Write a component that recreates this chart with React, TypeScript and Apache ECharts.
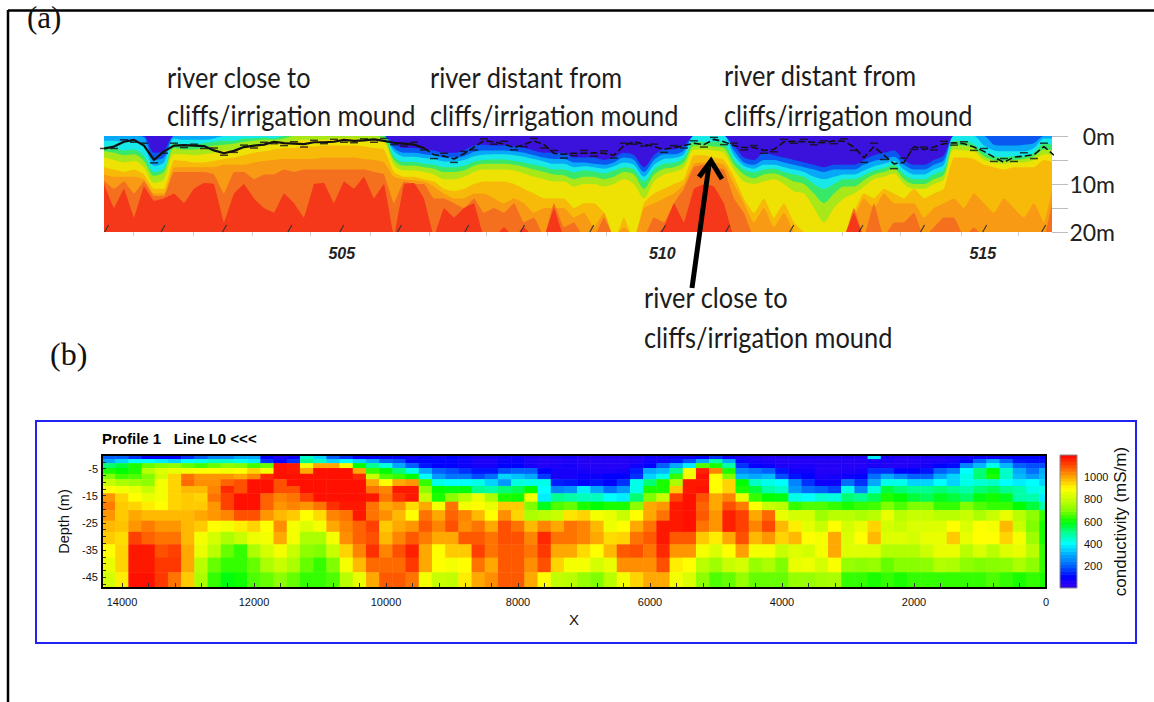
import React, { useEffect, useRef } from "react";
import * as echarts from "echarts";

// ---------- panel (a): depth (m) of each conductivity contour along the survey stations ----------
const isoBlue = [0,0,0,0,0,3.5,3,0,0,0, 0,0,0,0,0,0,0,0,0,0, 0,0,0,0,0,0,0,0,0,1.5, 2.5,2.5,2.8,3,3.5,3.5,3,2,1.8,2, 2,2.2,2.5,3,3.5,3.5,3.5,4.5,4.5,4.5, 5,4.5,3.5,4,6.5,4,2.8,2.8,2,0, 0,0,0,2,4.5,5,3.5,4,4.5,5, 5.5,6,6.5,6,6,6,5,4,3.5,3, 5,6,6,5,4,0,0,0,0,0, 0,0,0,0,0,0];
const isoSky = [0,0,0,0,0.3,5,4.5,0,0,0, 0,0,0,0,0,0,0,0,0,0, 0,0,0,0,0,0,0,0,0,2.5, 3.5,3.5,3.8,4,4.5,4.5,4.2,3.3,3,3, 3,3.2,3.5,4,4.5,4.8,4.8,5.5,5.5,5.8, 6,5.5,4.5,5,7.5,5,3.8,3.8,3,0, 0,0,0,3,5.5,6,5,5,5.5,6, 6.5,7,7.5,7,7,7,6,5.2,4.8,4.3, 6,7,7,6,5,0,0,0,0,1.8, 2,2,1.8,1.5,0,0];
const isoCyan = [1,1,1.2,1.2,2,6.2,5.5,0.5,0.8,0.8, 0.8,0.5,0,0,0,0,0,0,0,0, 0,0,0,0,0,0,0,0,0,3.2, 4.3,4.3,4.6,4.8,5.3,5.3,5,4.2,3.9,3.8, 3.8,4,4.3,4.8,5.3,5.8,5.8,6.5,6.3,6.5, 6.8,6.3,5.5,6,8.5,6,4.8,4.6,3.8,0, 0,0,0,4,6.2,6.8,6,6,6.5,7, 7.5,8.5,9,8.5,8,8,7.2,6.3,5.8,5.2, 7,8,8,7,6,0,0,0,2,3, 3.2,3.2,3.2,2.5,0.5,0.5];
const isoGreen = [2.2,2.5,3,2.8,4.2,7.5,6.8,1.5,1.8,1.8, 1.5,1.2,1,1,0.5,0.5,0.3,0.5,0,0, 0,0,0,0,0,0,0,0,0,4.3, 5.4,5.4,5.8,6,6.5,6.5,6.2,5.3,5,4.9, 4.9,5.2,5.5,6,6.4,7,7,7.6,7.2,7.4, 7.8,7.2,6.5,7,9.5,7,5.8,5.6,4.6,1.2, 1.2,1.2,1.5,5,7,7.6,7,6.8,7.5,8, 8.5,10,11,10,9,9,8.2,7.2,6.7,6, 8,9,9,8,7,1,1,1.8,3.5,4.2, 4.4,4.2,4.2,3.5,1.5,2];
const isoLime = [3.2,3.5,4,3.8,5.2,8.3,7.5,2.5,2.8,2.8, 2.5,2,1.8,1.6,1.2,1,0.8,0.8,0.5,0, 0,0,0,0,0,0,0,0,0.5,5, 6.2,6.2,6.5,6.8,7.5,7.5,7.2,6.2,5.8,5.8, 5.8,6,6.4,7,7.5,8,8.2,9,8.5,8.5, 9,8.5,7.5,8,11,8,6.8,6.5,5.5,2, 2,2.2,2.5,6,8,8.8,8,7.8,8.5,9.5, 10,12,14,12,10.5,10.5,9.2,8,7.5,6.8, 9,10,10,9,8,1.8,2,2.5,4.2,5, 5.2,5,4.8,4.2,2.8,3];
const isoYellow = [4.5,5,5.5,5.2,6.5,9.8,9,3.8,3.8,4, 3.8,3.5,3,3,2.5,2.2,2,1.5,1.2,1, 0.8,0.8,0.8,0.5,0.5,0.5,0.8,1,1.2,6, 7.2,7.2,7.5,8,9,9,8.5,7.5,7,7, 7,7.2,7.8,8.5,9,9.5,9.5,10.5,10,10, 10.5,10,9,10,13,9.5,8,7.5,6.5,2.8, 2.8,3,3.5,7,9.5,10,9.5,9,10,11.5, 12,15,18,15,13,12,10.5,9,8.5,7.8, 10,11,11,10,9,2.8,3,3.2,5,5.5, 5.8,5.5,5.5,5,3.8,4];
const isoGold = [6.5,7,7.5,7,8,11,11,5,5.2,5.5, 5.5,5.2,4.8,4.5,4,3.5,3.2,2.8,2.5,2.5, 2.2,2.2,2,2,2,2,2.2,2.5,2.8,7.5, 8.5,8.5,9,9.5,11,11.5,11,10,9.5,9.5, 9.5,10,11,12,13,13,13,15,14,14, 16,22,17,22,14,12,11,10,9,4, 4,4.5,5,8.5,13,16,13,17,14,18, 20,22,22,20,22,16,12,13,11,12, 13,11,13,12,11,4.5,4.5,4.8,6,6.5, 7,6.5,6.5,6.5,5,5.5];
const isoAmber = [8,8.5,8.5,8.5,9,12,12,6.5,6.5,6.5, 6.5,6.5,6,6,6,5.5,5.2,5,4.8,4.8, 4.8,4.8,4.5,4.5,4.5,4.5,4.8,5,5.5,8.5, 9,9.2,9.5,10.5,12,13,13,12,12,13, 14,13,14,16,15,15,15,17,16,19, 16,21,19,21,15,14,13,12,10,5.8, 5.5,5.5,6,10,14,18,15,19,16,20, 22,22,22,22,22,17,13,15,12,14, 14,14,17,15,14,13,15,12,14,16, 13,15,17,14,18,9];
const isoDeep = [9.3,11,9.5,12,9.5,12.5,12.5,7.5,7.5,7.5, 7.5,8,12,7.5,7.5,9,8,8,7,7.5, 7,7,7,7,7,7,7,7.5,8,14, 9.5,10,10,13,13,14,15,13,16,15, 16,14,18,17,21,14,19,18,21,21, 17,21,21,21,21,17,18,14,11,6.5, 6,6.5,7,13,16,21,21,21,21,21, 21,21,21,21,21,15,21,14,21,18, 18,16,21,19,17,17,21,19,21,21, 21,20,21,21,21,12];
const isoRed = [10,15,11,17,10.5,13.5,13,12,14,11, 9.8,10,18,12,10,13,15,16,12,14, 17,10,9.8,14,9.5,11,8.5,13,10,21, 10,9.8,13,21,15,17,15,14,21,21, 19,21,19,21,21,15,21,21,21,21, 21,21,21,21,21,21,19,14,18,11, 10,10.5,14,21,21,21,21,21,21,21, 21,21,21,21,21,16,21,21,21,21, 21,21,21,21,21,21,21,21,21,21, 21,21,21,21,21,21];
const riverDepth = [2.6,2.2,1.2,0.8,2,5,3.2,2,1.9,2, 2.1,3,3.6,3.1,2.3,2,1.8,1.2,1.5,1.6, 1.7,1.3,1.3,1.2,0.8,1,0.9,0.7,1,1.4, 1.6,1.8,2.5,3.9,4.2,4.8,3.7,2.3,1,1.2, 1.7,2.4,1.8,1,1.8,3.6,3.8,3.6,3.6,3.5, 3.6,4,2,1.2,1.7,2.2,2.8,2.4,2,1.5, 1.8,0.7,1.2,2,2.4,2.4,3,2.8,1.2,1.1, 1.2,1.3,1.4,1,1.1,2.3,4.5,2.2,4,5.8, 5.5,2.2,2.8,2.3,1.6,1.4,1.6,2.3,3.2,4.4, 5.5,4.4,4.2,3.9,2.2,4];
const soundingOffset = [0,0.4,-0.4,0.5,-0.5,0.6,0.4,-0.5,0.5,-0.3, 0.5,-0.5,0.4,0.3,-0.4,0.5,-0.5,0.4,0.5,-0.4, 0.6,-0.4,0.3,-0.5,0.5,0.4,-0.3,0.6,-0.5,0.4, 0.5,-0.5,0.4,0.8,-0.6,0.7,-0.5,0.6,-0.4,0.5, -0.6,0.5,0.4,-0.5,0.7,-0.6,0.8,0.5,-0.6,0.7, -0.5,0.6,-0.5,0.5,0.4,-0.5,0.6,-0.4,0.5,-0.5, 0.5,-0.4,0.6,-0.5,0.5,-0.4,0.6,0.5,-0.5,0.4, -0.5,0.5,-0.4,0.6,-0.5,0.7,1,-0.7,0.9,1, -0.9,0.6,-0.5,0.6,-0.5,0.5,-0.4,0.7,-0.6,0.9, -0.8,0.9,-0.7,0.8,-0.7,1];
const kmTicksSlanted = [501.33,502.21,503.17,504.19,505,505.9,506.95,507.82,508.9,510.02,511.02,512.02,513.1,514.06,515.03,515.95];
const kmTicksFaint = [501.74,502.68,503.6,504.5,505.44,506.37,507.26,508.2,509.12,512.8,513.72,514.66,515.56];
const kmLabels = [505,510,515];
const kmStart = 501.29;
const kmEnd = 516.08;
const kmStep = 0.156;

// ---------- panel (b): conductivity (mS/m) per depth layer ----------
const layerEdges = [0,1.6,3.1,4.9,7,9,11.5,14.2,17.3,20.4,24.3,28.4,33,37.9,43.3,49];
const layer00 = [200,200,150,100,100,100,150,200,250,250,300,300,100,50,80,450,350,200, 150,100,100,100,100,80,100,80,100,80,60,60,80,80,50,40,50,60, 40,40,40,40,50,70,70,80,80,100,150,80,60,50,40,40,50,50, 50,50,50,40,380,60,40,50,50,50,60,70,80,80,90,100,100,100];
const layer01 = [300,350,400,400,380,350,400,420,450,450,420,380,150,100,150,500,450,350, 400,350,300,200,180,100,100,100,90,80,50,50,80,80,50,40,40,50, 40,40,40,40,50,70,70,120,180,300,480,300,80,60,50,40,40,40, 40,40,40,40,50,50,40,40,50,50,60,100,200,300,200,120,110,110];
const layer02 = [520,560,620,680,700,720,680,650,680,720,700,650,680,1180,1170,880,1000,1000, 880,600,500,430,300,200,120,100,100,80,60,60,100,100,60,40,50,60, 40,40,40,40,70,100,200,300,380,660,620,480,150,90,80,50,50,50, 40,40,40,40,50,40,40,50,60,100,110,250,320,420,320,200,180,180];
const layer03 = [620,600,620,780,840,860,880,900,900,880,900,950,880,1180,1170,1000,1180,1180, 1180,1000,640,600,520,420,300,200,180,150,120,120,180,200,200,100,60,60, 60,50,50,60,130,300,320,500,880,1160,1040,620,250,230,200,120,70,70, 40,40,50,60,150,150,100,100,120,200,240,400,520,600,450,300,220,300];
const layer04 = [700,650,660,700,820,950,1060,1020,1020,1020,1000,1040,1150,1180,1180,1180,1180,1180, 1180,1150,800,660,640,600,400,280,230,230,180,220,350,330,300,160,60,60, 80,80,100,100,150,350,420,640,880,1180,900,700,320,300,320,180,120,100, 50,60,80,100,220,300,250,200,200,300,350,420,520,620,450,320,280,320];
const layer05 = [800,760,740,720,880,950,1070,1030,1030,1080,1100,1180,1180,1100,1180,1180,1180,1180, 1180,1180,1000,900,1000,1020,640,420,400,400,420,350,280,430,420,420,130,120, 100,120,100,150,420,520,620,760,1170,1170,900,950,600,450,420,400,250,150, 80,80,220,150,300,420,420,350,350,400,350,420,440,450,400,380,400,350];
const layer06 = [900,880,860,800,880,950,980,980,1040,1150,1100,1180,1180,1100,1100,1180,1180,1180, 1180,1180,1060,1040,1170,1170,720,600,590,590,500,480,520,540,600,400,250,270, 380,300,220,280,420,620,620,960,1170,1180,900,950,620,560,480,450,280,220, 200,170,420,250,430,560,520,500,500,520,500,480,520,540,500,480,420,420];
const layer07 = [1020,950,900,860,880,950,960,950,1060,1120,1180,1180,1080,1040,1060,1120,1180,1180, 1180,1180,1170,1060,1140,1170,800,620,720,780,860,760,620,610,880,380,500,480, 460,460,400,380,520,700,800,1120,1180,1100,1000,1040,860,640,600,590,420,400, 440,430,520,500,540,620,600,560,540,580,560,530,590,610,580,480,470,380];
const layer08 = [1050,960,950,920,900,950,960,960,1020,1120,1180,1180,1080,1020,1040,1020,1060,1140, 1170,1170,1060,1000,1020,940,1000,880,1060,880,900,860,960,960,700,580,660,680, 620,600,620,620,720,1000,1020,1170,1180,1080,1000,1100,1050,900,800,780,640,660, 660,640,620,640,650,700,660,700,700,640,640,700,660,640,640,600,560,480];
const layer09 = [1020,960,1000,980,980,980,980,1000,1020,1040,1100,1100,1020,980,960,900,940,1040, 1060,1170,1060,1030,980,900,1060,1000,1080,1040,980,900,1030,950,760,780,800,930, 950,880,860,800,900,1000,1060,1170,1180,1090,1020,1160,1120,1000,1070,860,820,820, 740,780,780,760,780,860,780,800,800,780,780,800,760,800,860,780,720,640];
const layer10 = [980,970,1020,1050,1020,1020,980,960,900,880,920,950,900,1030,880,840,880,1000, 1040,1080,1120,960,1000,1020,1090,1040,1100,1030,1060,1000,1100,1060,980,1040,1000,1060, 1040,980,870,900,1000,1060,1170,1170,1180,1060,1020,1160,1120,1040,1110,980,920,850, 800,900,820,860,950,820,800,830,830,840,900,830,900,880,980,800,700,620];
const layer11 = [960,940,1120,1080,1060,1060,980,880,820,760,800,870,880,1000,880,760,760,880, 1030,1080,1100,980,1040,1090,1050,1000,1000,1090,1090,1060,1100,1100,1040,1150,1060,1060, 1040,1000,940,950,1060,1090,1170,1090,1090,960,920,1000,1100,980,1020,950,980,900, 880,1000,830,900,980,840,840,820,860,860,960,860,900,900,950,880,740,620];
const layer12 = [900,950,1170,1170,1100,1120,1000,860,780,680,640,760,820,880,800,720,700,800, 950,1040,1140,1040,1100,1160,1000,900,960,960,1120,1060,1090,1090,1060,1130,1000,1000, 940,900,980,1090,1100,1060,1150,1020,1020,880,830,900,1010,880,880,800,840,820, 880,1000,840,840,840,770,770,770,810,860,860,780,830,780,840,860,780,640];
const layer13 = [860,950,1170,1170,1130,1130,1000,780,680,640,640,680,760,800,760,680,640,700, 880,980,1070,1070,1070,1130,1000,900,880,900,1060,1000,1090,1090,1030,1100,950,880, 880,820,860,1030,1030,1030,1100,920,900,780,740,800,820,730,760,700,860,870, 820,890,730,720,730,680,710,710,720,770,760,720,700,710,720,760,720,640];
const layer14 = [820,920,1180,1180,1130,1060,960,760,640,590,610,660,680,720,680,640,640,660, 780,860,1000,1090,1090,1060,880,800,790,920,1000,1030,1090,1090,1000,900,790,780, 730,700,780,880,950,1000,1000,880,830,720,660,680,730,680,680,680,730,730, 750,760,640,640,620,640,620,640,640,640,640,640,640,660,640,620,640,620];
const layers = [layer00,layer01,layer02,layer03,layer04,layer05,layer06,layer07,layer08,layer09,layer10,layer11,layer12,layer13,layer14];
const firstColumnX = 14200;
const columnSpacing = 200;
const depthLabels = [-5,-15,-25,-35,-45];
const depthTicks = [-2.5,-5,-7.5,-10,-12.5,-15,-17.5,-20,-22.5,-25,-27.5,-30,-32.5,-35,-37.5,-40,-42.5,-45,-47.5];
const xLabels = [0,2000,4000,6000,8000,10000,12000,14000];
const xTicks = [400,800,1200,1600,2000,2400,2800,3200,3600,4000,4400,4800,5200,5600,6000,6400,6800,7200,7600,8000,8400,8800,9200,9600,10000,10400,10800,11200,11600,12000,12400,12800,13200,13600,14000];
const colorBarLevels = [15,45,75,105,135,165,195,225,255,285,315,345,375,405,435,465,495,525,555,585,615,645,675,705,735,765,795,825,855,885,915,945,975,1005,1035,1065,1095,1125,1155,1185];
const conductivityColors = ["#3a00f0","#0000ff","#0060ff","#00a8ff","#00ffff","#00ff90","#00ff00","#80ff00","#c8ff00","#ffff00","#ffa800","#ff5000","#ff0000"];

const isoLayers: [number[], string, number][] = [
  [isoBlue, "#0a58f0", 0.3], [isoSky, "#08a8f8", 0.3], [isoCyan, "#18e8e8", 0.3], [isoGreen, "#38e868", 0.3],
  [isoLime, "#a8e818", 0.3], [isoYellow, "#eee204", 0.3], [isoGold, "#f8ba08", 0.15], [isoAmber, "#f89a14", 0.15],
  [isoDeep, "#f4701f", 0.1], [isoRed, "#f5381a", 0.05],
];

const ANN = "Lato";
const annotation = (text: string, x: number, y: number) => ({
  type: "text", x, y, z: 20, scaleY: 1.12, style: { text, x: 0, y: 0, font: `25.4px ${ANN}`, fill: "#1c1c1c", textVerticalAlign: "middle" },
});

export default function App() {
  const ref = useRef<HTMLDivElement>(null);
  useEffect(() => {
    document.body.style.margin = "0";
    const chart = echarts.init(ref.current!, null, { renderer: "svg" });
    const stationSeries = (arr: (number | null)[]) => arr.map((d, i) => [kmStart + i * kmStep, d]);

    const cells: number[][] = [];
    layers.forEach((row, r) => row.forEach((v, c) => {
      const cx = firstColumnX - c * columnSpacing;
      cells.push([cx + columnSpacing / 2, cx - columnSpacing / 2, -layerEdges[r], -layerEdges[r + 1], v]);
    }));
    const barCells = colorBarLevels.map((v) => [0, 1, v - 15, v + 15, v]);

    const renderRect = (_: any, api: any) => {
      const a = api.coord([api.value(0), api.value(2)]);
      const b = api.coord([api.value(1), api.value(3)]);
      return {
        type: "rect",
        shape: { x: Math.min(a[0], b[0]) - 0.25, y: Math.min(a[1], b[1]) - 0.25, width: Math.abs(b[0] - a[0]) + 0.5, height: Math.abs(b[1] - a[1]) + 0.5 },
        style: { fill: api.visual("color"), stroke: null },
      };
    };

    const n = isoLayers.length;
    const option: any = {
      animation: false,
      backgroundColor: "#ffffff",
      grid: [
        { left: 104, top: 136, width: 948, height: 96, show: true, backgroundColor: "#3a12dc", borderWidth: 0 },
        { left: 102, top: 455, width: 944, height: 133 },
        { left: 1060, top: 455, width: 17, height: 133 },
      ],
      xAxis: [
        {
          type: "value", gridIndex: 0, min: kmStart, max: kmEnd, splitLine: { show: false }, axisLine: { show: false, onZero: false },
          axisTick: { show: true, customValues: kmTicksFaint, length: 4, lineStyle: { color: "#cfcfcf", width: 1 } },
          axisLabel: { customValues: kmLabels, margin: 13, formatter: (v: number) => String(v), color: "#222", fontFamily: "Liberation Sans", fontStyle: "italic", fontWeight: "bold", fontSize: 16 },
        },
        {
          type: "value", gridIndex: 1, inverse: true, min: 0, max: 14303, splitLine: { show: false }, z: 10,
          axisLine: { show: false, onZero: false },
          axisTick: { show: true, inside: true, customValues: xTicks, length: 5, lineStyle: { color: "#333", width: 1 } },
          axisLabel: { customValues: xLabels, margin: 8, formatter: (v: number) => String(v), color: "#111", fontFamily: "Liberation Sans", fontSize: 11 },
          name: "X", nameLocation: "middle", nameGap: 24, nameTextStyle: { color: "#111", fontFamily: "Liberation Sans", fontSize: 15 },
        },
        { type: "value", gridIndex: 2, min: 0, max: 1, show: false },
      ],
      yAxis: [
        {
          type: "value", gridIndex: 0, position: "right", inverse: true, min: 0, max: 20, interval: 5, splitLine: { show: false },
          axisLine: { show: false, onZero: false }, axisTick: { show: true, length: 16, lineStyle: { color: "#bdbdbd", width: 1 } },
          axisLabel: { align: "right", margin: 63, color: "#222", fontFamily: ANN, fontSize: 23, formatter: (v: number) => (v % 10 === 0 ? `${v}m` : "") },
        },
        {
          type: "value", gridIndex: 1, min: -49, max: 0, splitLine: { show: false }, axisLine: { show: false, onZero: false }, z: 10,
          axisTick: { show: true, inside: true, customValues: depthTicks, length: 4, lineStyle: { color: "#333", width: 1 } },
          axisLabel: { customValues: depthLabels, margin: 4, formatter: (v: number) => String(v), color: "#111", fontFamily: "Liberation Sans", fontSize: 11 },
          name: "Depth (m)", nameLocation: "middle", nameGap: 15, nameRotate: 90, nameTextStyle: { color: "#111", fontFamily: "Liberation Sans", fontSize: 14.5 },
        },
        {
          type: "value", gridIndex: 2, position: "right", min: 0, max: 1200, interval: 200, splitLine: { show: false },
          axisLine: { show: false, onZero: false }, axisTick: { show: false },
          axisLabel: { margin: 7, color: "#111", fontFamily: "Liberation Sans", fontSize: 11, formatter: (v: number) => (v === 0 || v === 1200 ? "" : String(v)) },
          name: "conductivity (mS/m)", nameLocation: "middle", nameGap: 34, nameRotate: 90, nameTextStyle: { color: "#111", fontFamily: "Liberation Sans", fontSize: 17 },
        },
      ],
      visualMap: {
        type: "continuous", show: false, min: 0, max: 1200, dimension: 4, seriesIndex: [n + 4, n + 5], inRange: { color: conductivityColors },
      },
      series: [
        ...isoLayers.map(([arr, color, smooth]) => ({
          type: "line", xAxisIndex: 0, yAxisIndex: 0, data: stationSeries(arr), showSymbol: false, symbol: "none", smooth,
          lineStyle: { width: 0 }, areaStyle: { color, opacity: 1, origin: "end" }, clip: true, silent: true,
        })),
        {
          type: "line", xAxisIndex: 0, yAxisIndex: 0, data: stationSeries(riverDepth.map((d, i) => (i <= 32 ? d : null))),
          showSymbol: false, symbol: "none", connectNulls: false, lineStyle: { color: "#111", width: 2.2 }, z: 5,
        },
        {
          type: "line", xAxisIndex: 0, yAxisIndex: 0, data: stationSeries(riverDepth.map((d, i) => (i >= 32 ? d : null))),
          showSymbol: false, symbol: "none", connectNulls: false, lineStyle: { color: "#111", width: 1.6, type: [7, 3] }, z: 5,
        },
        {
          type: "scatter", xAxisIndex: 0, yAxisIndex: 0, symbol: "rect", symbolSize: [8, 1.5],
          data: stationSeries(riverDepth.map((d, i) => d + soundingOffset[i])), itemStyle: { color: "#111" }, z: 5,
        },
        {
          type: "custom", xAxisIndex: 0, yAxisIndex: 0, clip: false, z: 6, data: kmTicksSlanted.map((k) => [k]),
          encode: { x: 0 },
          renderItem: (_: any, api: any) => {
            const p = api.coord([api.value(0), 20]);
            return { type: "line", shape: { x1: p[0] - 2, y1: p[1], x2: p[0] + 2, y2: p[1] - 7 }, style: { stroke: "#333", lineWidth: 1.1 } };
          },
        },
        {
          type: "custom", xAxisIndex: 1, yAxisIndex: 1, clip: true, progressive: 0, data: cells,
          encode: { x: [0, 1], y: [2, 3] }, renderItem: renderRect, silent: true,
        },
        {
          type: "custom", xAxisIndex: 2, yAxisIndex: 2, clip: true, progressive: 0, data: barCells,
          encode: { x: [0, 1], y: [2, 3] }, renderItem: renderRect, silent: true,
        },
      ],
      graphic: [
        { type: "line", z: 1, shape: { x1: 8, y1: 10.5, x2: 1154, y2: 10.5 }, style: { stroke: "#000", lineWidth: 2.5 } },
        { type: "line", z: 1, shape: { x1: 8, y1: 10, x2: 8, y2: 702 }, style: { stroke: "#000", lineWidth: 2.5 } },
        { type: "text", x: 27, y: 17, z: 20, style: { text: "(a)", font: "31px 'Liberation Serif'", fill: "#111", textVerticalAlign: "middle" } },
        { type: "text", x: 50, y: 354, z: 20, style: { text: "(b)", font: "32px 'Liberation Serif'", fill: "#111", textVerticalAlign: "middle" } },
        annotation("river close to", 167, 77),
        annotation("cliffs/irrigation mound", 167, 115),
        annotation("river distant from", 430, 77),
        annotation("cliffs/irrigation mound", 430, 115),
        annotation("river distant from", 724, 75),
        annotation("cliffs/irrigation mound", 724, 115),
        annotation("river close to", 644, 297),
        annotation("cliffs/irrigation mound", 644, 337),
        { type: "polyline", z: 20, shape: { points: [[692, 288], [709, 165]] }, style: { stroke: "#000", lineWidth: 5, fill: null } },
        { type: "polyline", z: 20, shape: { points: [[699, 177], [711, 161], [722, 179]] }, style: { stroke: "#000", lineWidth: 5, fill: null } },
        { type: "rect", z: 1, shape: { x: 36, y: 421, width: 1100, height: 222 }, style: { stroke: "#2222ee", lineWidth: 2, fill: null } },
        { type: "text", x: 102, y: 438, z: 20, style: { text: "Profile 1   Line L0 <<<", font: "bold 15px 'Liberation Sans'", fill: "#000", textVerticalAlign: "middle" } },
        { type: "rect", z: 20, shape: { x: 102, y: 455, width: 944, height: 133 }, style: { stroke: "#000", lineWidth: 2, fill: null } },
        { type: "rect", z: 20, shape: { x: 1060, y: 455, width: 17, height: 133 }, style: { stroke: "#888", lineWidth: 1, fill: null } },
      ],
    };
    chart.setOption(option);
    return () => chart.dispose();
  }, []);
  return <div ref={ref} style={{ position: "absolute", left: 0, top: 0, width: 1154, height: 702 }} />;
}
